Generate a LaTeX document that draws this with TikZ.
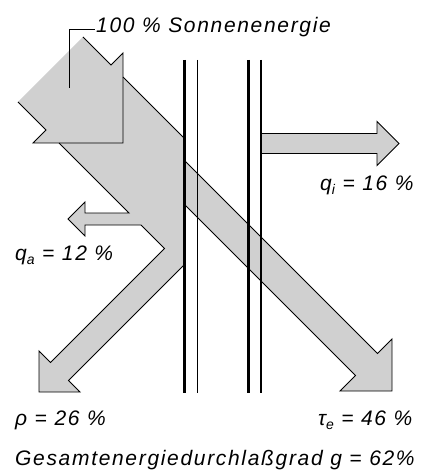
\documentclass[tikz,border=0pt]{standalone}
\usepackage{fontspec}
\setmainfont{Liberation Sans}[LetterSpace=8]
\usepackage{xcolor}
\usetikzlibrary{positioning,calc}
\definecolor{flowgrey}{RGB}{208,208,208}
\newcommand{\lowsub}[1]{\raisebox{-0.45ex}{\fontsize{14}{14}\selectfont #1}}

\begin{document}
\begin{tikzpicture}[x=1pt,y=-1pt,
  edge/.style={line width=0.9pt,line join=miter},
  lbl/.style={inner sep=0pt,font=\fontsize{21}{24}\selectfont\itshape}]
\useasboundingbox (0,0) rectangle (427,470);
\fill[flowgrey] (18,102) -- (83,37) -- (184,138) -- (184,265) -- (68.5,380.5) -- (80,392) -- (39,392) -- (39,351) -- (50.5,362.5) -- (164.5,248.5) -- cycle;
\fill[flowgrey] (123,53) -- (123,143) -- (33,143) -- cycle;
\fill[flowgrey] (141,213) -- (85,213) -- (85,202) -- (68,219) -- (85,236) -- (85,225) -- (141,225) -- cycle;
\fill[flowgrey] (184,160) -- (377.5,353.5) -- (392,339) -- (392,391) -- (340,391) -- (355.5,375.5) -- (184,204) -- cycle;
\fill[flowgrey] (261,133.5) -- (377,133.5) -- (377,121.5) -- (399,143.5) -- (377,165.5) -- (377,153.5) -- (261,153.5) -- cycle;
\draw[edge] (18,102) -- (46,130) -- (33,143) -- (123,143) -- (123,53) -- (111,65) -- (83,37);
\draw[edge] (123,77) -- (184,138);
\draw[edge] (59,143) -- (129,213) -- (85,213) -- (85,202) -- (68,219) -- (85,236) -- (85,225) -- (141,225) -- (164.5,248.5) -- (50.5,362.5) -- (39,351) -- (39,392) -- (80,392) -- (68.5,380.5) -- (184,265);
\draw[edge] (184,160) -- (377.5,353.5) -- (392,339) -- (392,391) -- (340,391) -- (355.5,375.5) -- (184,204);
\draw[edge] (261,133.5) -- (377,133.5) -- (377,121.5) -- (399,143.5) -- (377,165.5) -- (377,153.5) -- (261,153.5);
\foreach \px/\w in {184.3/3, 197.5/1.3, 248.7/3, 261/1.3}
  \draw[line width=\w pt] (\px,60) -- (\px,393);
\node[lbl,anchor=base west] (sun) at (96,32.5) {100 \% Sonnenenergie};
\coordinate (sunfoot) at (69,88);
\draw[edge] (sunfoot) |- ([xshift=-1.5pt]sun.mid west);
\node[lbl,anchor=base west] (qi) at (320,190) {q\lowsub{i} = 16 \%};
\node[lbl,anchor=base west] (qa) at (15,260) {q\lowsub{a} = 12 \%};
\node[lbl,anchor=base west] (rho) at (15,425) {ρ = 26 \%};
\node[lbl,anchor=base west] (tau) at (318,425) {τ\lowsub{e} = 46 \%};
\node[lbl,anchor=base west] (total) at (15,465) {Gesamtenergiedurchlaßgrad g = 62\%};
\end{tikzpicture}
\end{document}
